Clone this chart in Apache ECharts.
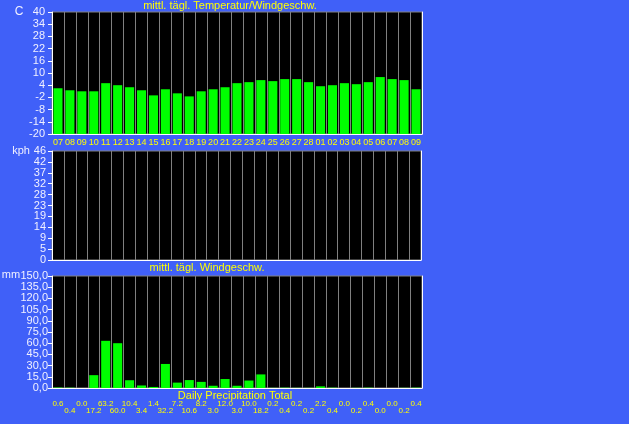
<!DOCTYPE html>
<html><head><meta charset="utf-8">
<script src="https://cdn.jsdelivr.net/npm/echarts@6/dist/echarts.min.js"></script>
<style>html,body{margin:0;padding:0;background:#4060f8;overflow:hidden}#c{width:629px;height:424px}</style>
</head><body><div id="c"></div>
<script>
// ---- data ----
const days = ['07','08','09','10','11','12','13','14','15','16','17','18','19','20','21','22','23','24','25','26','27','28','01','02','03','04','05','06','07','08','09'];
const temperature = [2.5,1.5,1.0,1.0,5.0,4.0,3.0,1.5,-1.0,2.0,0.0,-1.5,1.0,2.0,3.0,5.0,5.5,6.5,6.0,7.0,7.0,5.5,3.5,4.0,5.0,4.5,5.5,8.0,7.0,6.5,2.0];
const windSpeed = [0,0,0,0,0,0,0,0,0,0,0,0,0,0,0,0,0,0,0,0,0,0,0,0,0,0,0,0,0,0,0];
const precipitation = [0.6,0.4,0.0,17.2,63.2,60.0,10.4,3.4,1.4,32.2,7.2,10.6,8.2,3.0,12.0,3.0,10.0,18.2,0.2,0.4,0.2,0.2,2.2,0.4,0.0,0.2,0.4,0.0,0.0,0.2,0.4];
const kphTicks = [0,5,9,14,19,23,28,32,37,42,46];
const titles = ['mittl. tägl. Temperatur/Windgeschw.', 'mittl. tägl. Windgeschw.', 'Daily Precipitation Total'];
const units = ['C', 'kph', 'mm'];

// ---- chart ----
const FONT = 'Liberation Sans, Arial, sans-serif';
const YEL = '#ffff00';
const AXC = '#f0f0ff';
const TEMP_MIN = -20, TEMP_MAX = 40;

function makeBars(base) {
  return function (params, api) {
    const v = api.value(1);
    if (v === null || v === undefined || isNaN(v)) return null;
    const i = api.value(0);
    const top = api.coord([i, v]);
    const bot = api.coord([i, base]);
    const w = api.size([1, 0])[0] * 0.76;
    return {
      type: 'rect',
      shape: { x: top[0] - w / 2, y: Math.min(top[1], bot[1]), width: w, height: Math.abs(bot[1] - top[1]) },
      style: { fill: '#00ff00' }
    };
  };
}
const pairs = arr => arr.map((v, i) => [i, v]);

const grids = [
  { left: 52, top: 12, width: 370, height: 122 },
  { left: 52, top: 151, width: 369, height: 109 },
  { left: 52, top: 276, width: 370, height: 112 }
].map(g => Object.assign(g, { show: true, backgroundColor: '#000', borderColor: '#808080', borderWidth: 1 }));

function catAxis(gi, data, label) {
  return {
    gridIndex: gi, type: 'category', data: data, boundaryGap: true,
    axisLine: { show: true, onZero: false, lineStyle: { color: '#ffffff', width: 1 } },
    axisTick: { show: false },
    splitLine: { show: true, interval: 0, lineStyle: { color: '#808080', width: 1 } },
    axisLabel: Object.assign({ hideOverlap: false }, label)
  };
}
function valAxis(gi, min, max, interval, margin, fmt) {
  return {
    gridIndex: gi, type: 'value', min: min, max: max, interval: interval,
    axisLine: { show: true, onZero: false, lineStyle: { color: '#ffffff', width: 1 } },
    axisTick: { show: true, length: 4, lineStyle: { color: '#ffffff' } },
    splitLine: { show: false },
    axisLabel: { color: AXC, fontSize: 11, fontFamily: FONT, margin: margin, formatter: fmt, showMinLabel: true, showMaxLabel: true, hideOverlap: false }
  };
}
function rightEdge(gi) {
  return {
    gridIndex: gi, type: 'value', position: 'right', min: 0, max: 1,
    axisLine: { show: true, onZero: false, lineStyle: { color: '#ffffff', width: 1 } },
    axisTick: { show: false }, axisLabel: { show: false }, splitLine: { show: false }
  };
}

const option = {
  backgroundColor: '#4060f8',
  animation: false,
  grid: grids,
  xAxis: [
    catAxis(0, days, { interval: 0, color: YEL, fontSize: 9, fontFamily: FONT, margin: 4 }),
    catAxis(1, days, { show: false }),
    catAxis(2, precipitation.map(v => v.toFixed(1)), {
      interval: 0, color: YEL, fontSize: 8, fontFamily: FONT, margin: 12, lineHeight: 7.5,
      formatter: (v, i) => (i % 2 ? '\n' + v : v)
    })
  ],
  yAxis: [
    valAxis(0, TEMP_MIN, TEMP_MAX, 6, 7, v => String(v)),
    valAxis(1, 0, 46, 4.6, 6, (v, i) => String(kphTicks[i] !== undefined ? kphTicks[i] : Math.round(v))),
    valAxis(2, 0, 150, 15, 4, v => v.toFixed(1).replace('.', ',')),
    rightEdge(0), rightEdge(1), rightEdge(2)
  ],
  series: [
    { type: 'custom', xAxisIndex: 0, yAxisIndex: 0, data: pairs(temperature), renderItem: makeBars(TEMP_MIN), encode: { x: 0, y: 1 } },
    { type: 'custom', xAxisIndex: 1, yAxisIndex: 1, data: pairs(windSpeed), renderItem: makeBars(0), encode: { x: 0, y: 1 } },
    { type: 'custom', xAxisIndex: 2, yAxisIndex: 2, data: pairs(precipitation), renderItem: makeBars(0), encode: { x: 0, y: 1 } }
  ],
  graphic: [
    { type: 'text', x: 230, y: 5.5, style: { text: titles[0], fill: YEL, font: '11px ' + FONT, textAlign: 'center', textVerticalAlign: 'middle' } },
    { type: 'text', x: 207, y: 268, style: { text: titles[1], fill: YEL, font: '11px ' + FONT, textAlign: 'center', textVerticalAlign: 'middle' } },
    { type: 'text', x: 235, y: 396, style: { text: titles[2], fill: YEL, font: '11px ' + FONT, textAlign: 'center', textVerticalAlign: 'middle' } },
    { type: 'text', x: 19, y: 12, style: { text: units[0], fill: AXC, font: '12px ' + FONT, textAlign: 'center', textVerticalAlign: 'middle' } },
    { type: 'text', x: 21, y: 151, style: { text: units[1], fill: AXC, font: '11px ' + FONT, textAlign: 'center', textVerticalAlign: 'middle' } },
    { type: 'text', x: 11, y: 275, style: { text: units[2], fill: AXC, font: '11px ' + FONT, textAlign: 'center', textVerticalAlign: 'middle' } }
  ]
};
const chart = echarts.init(document.getElementById('c'), null, { renderer: 'canvas' });
chart.setOption(option);
</script>
</body></html>
